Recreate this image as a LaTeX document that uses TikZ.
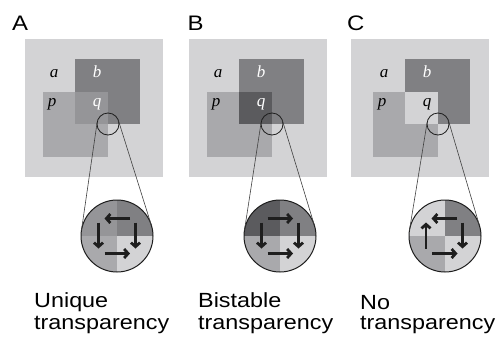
\documentclass[tikz,border=0pt]{standalone}
\usepackage{fontspec}
\usetikzlibrary{arrows.meta,calc}
\newfontfamily\labfont[FakeStretch=1.14]{Liberation Sans}
\newfontfamily\letfont{Liberation Serif}
\definecolor{bgc}{HTML}{D3D3D5}
\definecolor{bc}{HTML}{808083}
\definecolor{pc}{HTML}{A9A9AC}
\definecolor{qA}{HTML}{959598}
\definecolor{qB}{HTML}{5B5B5E}
\definecolor{qC}{HTML}{D3D3D5}
\definecolor{ink}{HTML}{1E1E1E}
\tikzset{
 smallc/.style={circle, draw=ink, line width=0.8pt, minimum size=22pt, inner sep=0pt, outer sep=0pt},
 bigc/.style={circle, draw=ink, line width=1pt, minimum size=72pt, inner sep=0pt, outer sep=0pt},
 zoomline/.style={draw=ink!85, line width=0.6pt},
 arr/.style={draw=ink, line width=2.8pt, -{Straight Barb[length=4pt,width=9pt]}},
 panel/.style={font=\labfont\fontsize{21}{21}\selectfont, anchor=base west, inner sep=0pt},
 caption/.style={font=\labfont\fontsize{20.5}{22}\selectfont, anchor=base west, inner sep=0pt},
 reg/.style={font=\letfont\itshape\fontsize{17}{17}\selectfont, anchor=base, inner sep=0pt},
}
\begin{document}
\begin{tikzpicture}[x=1pt,y=-1pt]
\useasboundingbox (0,0) rectangle (500,343);
\fill[white] (0,0) rectangle (500,343);

\foreach \ox/\lx/\bx/\qc/\qt/\nm in {0/25/117/qA/white/A, 164/189/280/qB/white/B, 330/351/445/qC/black/C}{
  \fill[bgc] (\lx,39) rectangle ++(138,138);
  \fill[bc] (\ox+75,59) rectangle ++(65,65);
  \fill[pc] (\ox+43,92) rectangle ++(65,65);
  \fill[\qc] (\ox+75,92) rectangle (\ox+108,124);
  \node[reg] (a\nm) at (\ox+54,77) {a};
  \node[reg, text=white] (b\nm) at (\ox+97,77.5) {b};
  \node[reg] (p\nm) at (\ox+52,106) {p};
  \node[reg, text=\qt] (q\nm) at (\ox+97,106) {q};
  \begin{scope}
    \clip (\bx,236) circle[radius=36pt];
    \fill[\qc] (\bx-40,196) rectangle (\bx,236);
    \fill[bc] (\bx,196) rectangle (\bx+40,236);
    \fill[pc] (\bx-40,236) rectangle (\bx,276);
    \fill[bgc] (\bx,236) rectangle (\bx+40,276);
  \end{scope}
  \node[bigc] (big\nm) at (\bx,236) {};
  \node[smallc] (small\nm) at (\ox+108,124) {};
  \draw[zoomline] (small\nm.171) -- (big\nm.171);
  \draw[zoomline] (small\nm.17) -- (big\nm.17);
}

% arrows A
\draw[arr] ($(bigA)+(13,-17.5)$) -- ($(bigA)+(-12.5,-17.5)$);
\draw[arr] ($(bigA)+(-18.5,-13.5)$) -- ($(bigA)+(-18.5,12.5)$);
\draw[arr] ($(bigA)+(18.5,-13.5)$) -- ($(bigA)+(18.5,12.5)$);
\draw[arr] ($(bigA)+(-12.5,17.5)$) -- ($(bigA)+(13,17.5)$);
% arrows B
\draw[arr] ($(bigB)+(-12.5,-17.5)$) -- ($(bigB)+(13,-17.5)$);
\draw[arr] ($(bigB)+(-18.5,-13.5)$) -- ($(bigB)+(-18.5,12.5)$);
\draw[arr] ($(bigB)+(18.5,-13.5)$) -- ($(bigB)+(18.5,12.5)$);
\draw[arr] ($(bigB)+(-12.5,17.5)$) -- ($(bigB)+(13,17.5)$);
% arrows C
\draw[arr] ($(bigC)+(12,-17.5)$) -- ($(bigC)+(-13.5,-17.5)$);
\draw[arr] ($(bigC)+(-19,12.5)$) -- ($(bigC)+(-19,-13.5)$);
\draw[arr] ($(bigC)+(17.5,-13.5)$) -- ($(bigC)+(17.5,12.5)$);
\draw[arr] ($(bigC)+(-13,17.5)$) -- ($(bigC)+(12.5,17.5)$);

% panel letters
\node[panel] (labA) at (12,30) {A};
\node[panel] (labB) at (187.5,30) {B};
\node[panel] (labC) at (347,30) {C};

% captions
\node[caption] (capA1) at (34,307) {Unique};
\node[caption] (capA2) at (34,329.5) {transparency};
\node[caption] (capB1) at (198,307) {Bistable};
\node[caption] (capB2) at (198,329.5) {transparency};
\node[caption] (capC1) at (360,309) {No};
\node[caption] (capC2) at (360,329.5) {transparency};
\end{tikzpicture}
\end{document}
